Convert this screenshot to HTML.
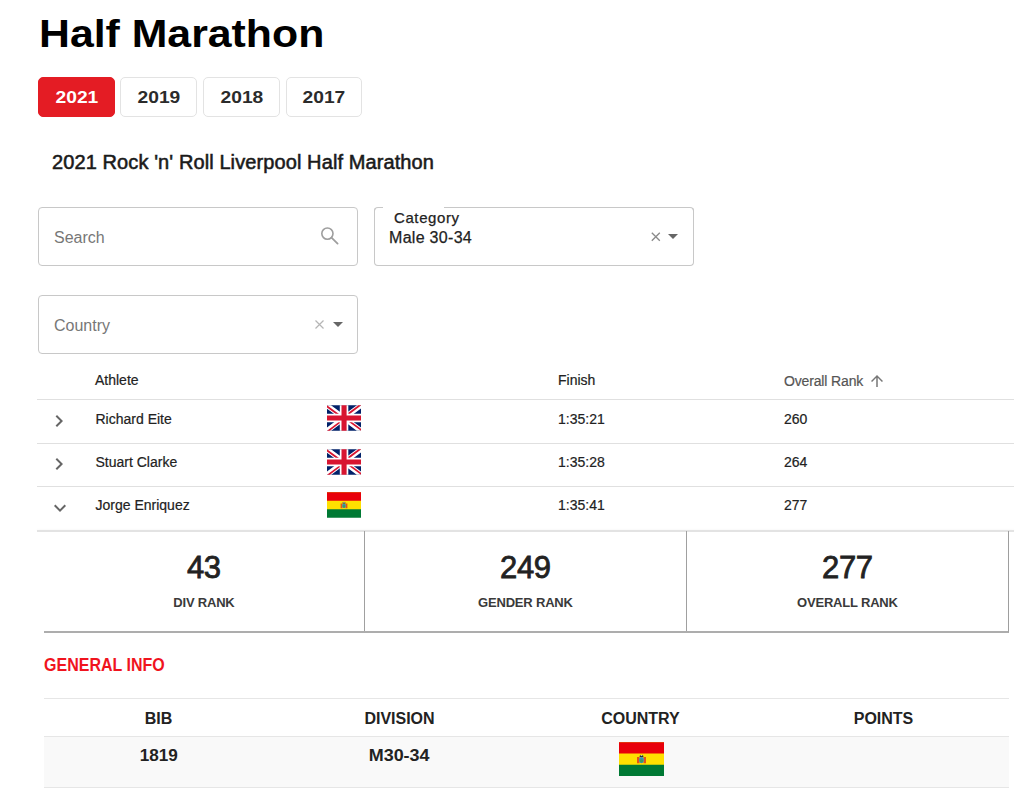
<!DOCTYPE html>
<html lang="en">
<head>
<meta charset="utf-8">
<title>Half Marathon</title>
<style>
*{box-sizing:border-box;margin:0;padding:0}
html,body{width:1030px;height:799px;overflow:hidden;background:#fff}
body{font-family:"Liberation Sans",Arial,sans-serif;color:#222;position:relative}
.abs{position:absolute;white-space:nowrap}
h1{position:absolute;left:39px;top:12px;font-size:38px;line-height:44px;font-weight:bold;color:#000;transform:scaleX(1.126);transform-origin:0 0}
.tabs{position:absolute;left:38px;top:77px;height:40px}
.tab{position:absolute;top:0;width:77px;height:40px;border:1px solid #e3e3e3;border-radius:5px;font-weight:bold;font-size:17px;line-height:38px;text-align:center;color:#2b2b2b;padding-top:1px}
.tab span{display:inline-block;transform:scaleX(1.13)}
.tab.on{background:#e41c24;border-color:#e41c24;color:#fff}
.sub{left:52px;top:150px;font-size:20px;letter-spacing:0.1px;line-height:24px;font-weight:normal;color:#1a1a1a;-webkit-text-stroke:0.55px #1a1a1a}
.field{position:absolute;width:320px;height:59px;border:1px solid #c8c8c8;border-radius:4px;background:#fff}
.ph{position:absolute;left:15px;top:21px;font-size:16px;line-height:18px;color:#777}
.rows{position:absolute;left:37px;top:365px;width:977px}
.hline{position:absolute;left:37px;width:977px;height:1px;background:#e0e0e0}
.th{font-size:14px;line-height:16px;-webkit-text-stroke:0.2px currentColor}
.td{font-size:14px;line-height:16px;color:#222;-webkit-text-stroke:0.2px currentColor}
.flag{position:absolute;width:34px;height:26px}
.panel{position:absolute;left:44px;top:531px;width:965px;height:102px;border-right:1px solid #9e9e9e;border-bottom:2px solid #adadad}
.cell{position:absolute;top:0;height:100px;text-align:center}
.num{position:absolute;left:0;right:0;top:18.5px;font-size:31px;line-height:36px;font-weight:normal;color:#222;letter-spacing:-0.3px;text-indent:-0.3px;-webkit-text-stroke:0.8px #222}
.lab{position:absolute;left:0;right:0;top:64px;font-size:13px;line-height:16px;font-weight:bold;color:#3a3a3a;letter-spacing:-0.2px;text-indent:-0.2px}
.gi{left:44px;top:654px;font-size:18px;line-height:22px;font-weight:bold;color:#f0141e;transform:scaleX(0.89);transform-origin:0 0}
.it{position:absolute;left:44px;width:965px}
.ic{position:absolute;width:229px;text-align:center;font-size:16px;line-height:18px;font-weight:bold;color:#222}
</style>
</head>
<body>
<h1>Half Marathon</h1>
<div class="tabs">
  <div class="tab on" style="left:0"><span>2021</span></div>
  <div class="tab" style="left:82px"><span>2019</span></div>
  <div class="tab" style="left:165px"><span>2018</span></div>
  <div class="tab" style="left:248px;width:76px"><span>2017</span></div>
</div>
<div class="abs sub">2021 Rock 'n' Roll Liverpool Half Marathon</div>

<!-- Search -->
<div class="field" style="left:38px;top:207px">
  <div class="ph">Search</div>
  <svg class="abs" style="left:279px;top:16px" width="22" height="22" viewBox="0 0 22 22"><circle cx="9.4" cy="9.6" r="5.6" fill="none" stroke="#9e9e9e" stroke-width="1.6"/><path d="M13.5 13.7L19.6 19.6" stroke="#9e9e9e" stroke-width="1.8" stroke-linecap="round"/></svg>
</div>

<!-- Category -->
<div class="field" style="left:374px;top:207px;border-top-color:transparent">
  <div style="position:absolute;left:-1px;top:-1px;width:9px;height:5px;border-top:1px solid #c8c8c8;border-left:1px solid #c8c8c8;border-top-left-radius:4px"></div>
  <div style="position:absolute;left:69px;top:-1px;right:-1px;height:5px;border-top:1px solid #c8c8c8;border-right:1px solid #c8c8c8;border-top-right-radius:4px"></div>
  <div class="abs" style="left:19px;top:0.5px;font-size:15px;line-height:18px;color:#222;letter-spacing:0.6px;-webkit-text-stroke:0.25px #222">Category</div>
  <div class="abs" style="left:14px;top:21px;font-size:16px;line-height:18px;color:#222;letter-spacing:0.3px;-webkit-text-stroke:0.25px #222">Male 30-34</div>
  <svg class="abs" style="left:276px;top:24px" width="10" height="10" viewBox="0 0 10 10"><path d="M0.8 0.8L8.8 8.8M8.8 0.8L0.8 8.8" stroke="#8a8a8a" stroke-width="1.3"/></svg>
  <svg class="abs" style="left:293px;top:26px" width="10" height="6" viewBox="0 0 10 6"><path d="M0 0H10L5 5Z" fill="#666"/></svg>
</div>

<!-- Country -->
<div class="field" style="left:38px;top:295px">
  <div class="ph">Country</div>
  <svg class="abs" style="left:276px;top:24px" width="10" height="10" viewBox="0 0 10 10"><path d="M0.5 0.5L8.5 8.5M8.5 0.5L0.5 8.5" stroke="#b5b5b5" stroke-width="1.2"/></svg>
  <svg class="abs" style="left:294px;top:26px" width="10" height="6" viewBox="0 0 10 6"><path d="M0 0H10L5 5Z" fill="#666"/></svg>
</div>


<svg width="0" height="0" style="position:absolute">
  <defs>
  <symbol id="gb" viewBox="0 0 640 480">
    <path fill="#012169" d="M0 0h640v480H0z"/>
    <path fill="#FFF" d="m75 0 244 181L562 0h78v62L400 241l240 178v61h-80L320 301 81 480H0v-60l239-178L0 64V0z"/>
    <path fill="#d81530" d="m424 281 216 159v40L369 281zm-184 20 6 35L54 480H0zM640 0v3L391 191l2-44L590 0zM0 0l239 176h-60L0 42z"/>
    <path fill="#FFF" d="M241 0v480h160V0zM0 160v160h640V160z"/>
    <path fill="#d81530" d="M0 193v96h640v-96zM273 0v480h96V0z"/>
  </symbol>
  <symbol id="bo" viewBox="0 0 640 480">
    <path fill="#007934" d="M0 0h640v480H0z"/>
    <path fill="#ffe000" d="M0 0h640v320H0z"/>
    <path fill="#e8000b" d="M0 0h640v160H0z"/>
    <path fill="#e2541c" d="M256 212h36v88h-36zM348 212h36v88h-36z"/>
    <ellipse cx="320" cy="255" rx="34" ry="44" fill="#2f93c4"/>
    <ellipse cx="320" cy="266" rx="22" ry="24" fill="#3f9e58"/>
    <path fill="#2b2b2b" d="M292 210l8-30 20 12 20-12 8 30z"/>
    <path fill="#fff" d="M306 190h28v8h-28z"/>
  </symbol>
  </defs>
</svg>
<!-- results table -->
<div class="abs th" style="left:95px;top:372px;color:#222">Athlete</div>
<div class="abs th" style="left:558px;top:372px;color:#222">Finish</div>
<div class="abs th" style="left:784px;top:373px;color:#555;letter-spacing:-0.15px">Overall Rank</div>
<svg class="abs" width="18" height="18" viewBox="0 0 24 24" style="left:868px;top:372px"><path d="M4 12l1.41 1.41L11 7.83V20h2V7.83l5.58 5.59L20 12l-8-8-8 8z" fill="#777"/></svg>
<div class="hline" style="top:399px"></div>
<div class="hline" style="top:443px"></div>
<div class="hline" style="top:486px"></div>
<div class="hline" style="top:530px;height:2px;background:#e3e3e3;box-shadow:0 -1px 2px rgba(0,0,0,0.025)"></div>
<svg class="abs" width="24" height="24" viewBox="0 0 24 24" style="left:47px;top:409px"><path d="M8.59 16.59L13.17 12 8.59 7.41 10 6l6 6-6 6-1.41-1.41z" fill="#666"/></svg>
<div class="abs td" style="left:95.5px;top:410.5px">Richard Eite</div>
<svg class="flag" style="left:327px;top:405px"><use href="#gb"/></svg>
<div class="abs td" style="left:558px;top:410.5px">1:35:21</div>
<div class="abs td" style="left:784px;top:410.5px">260</div>
<svg class="abs" width="24" height="24" viewBox="0 0 24 24" style="left:47px;top:452px"><path d="M8.59 16.59L13.17 12 8.59 7.41 10 6l6 6-6 6-1.41-1.41z" fill="#666"/></svg>
<div class="abs td" style="left:95.5px;top:454px">Stuart Clarke</div>
<svg class="flag" style="left:327px;top:449px"><use href="#gb"/></svg>
<div class="abs td" style="left:558px;top:454px">1:35:28</div>
<div class="abs td" style="left:784px;top:454px">264</div>
<svg class="abs" width="24" height="24" viewBox="0 0 24 24" style="left:47.5px;top:496px"><path d="M7.41 8.59L12 13.17l4.59-4.58L18 10l-6 6-6-6 1.41-1.41z" fill="#666"/></svg>
<div class="abs td" style="left:95.5px;top:497px">Jorge Enriquez</div>
<svg class="flag" style="left:327px;top:492px"><use href="#bo"/></svg>
<div class="abs td" style="left:558px;top:497px">1:35:41</div>
<div class="abs td" style="left:784px;top:497px">277</div>

<!-- rank panel -->
<div class="panel">
  <div class="cell" style="left:0;width:321px;border-right:1px solid #a0a0a0"><div class="num">43</div><div class="lab">DIV RANK</div></div>
  <div class="cell" style="left:321px;width:322px;border-right:1px solid #a0a0a0"><div class="num">249</div><div class="lab">GENDER RANK</div></div>
  <div class="cell" style="left:643px;width:321px"><div class="num">277</div><div class="lab">OVERALL RANK</div></div>
</div>

<div class="abs gi">GENERAL INFO</div>
<div class="it" style="top:698px;height:1px;background:#e6e6e6"></div>
<div class="it" style="top:736px;height:1px;background:#e6e6e6"></div>
<div class="it" style="top:737px;height:50px;background:#f9f9f9"></div>
<div class="it" style="top:787px;height:1px;background:#e6e6e6"></div>
<div class="ic" style="left:44px;top:710px">BIB</div>
<div class="ic" style="left:285px;top:710px">DIVISION</div>
<div class="ic" style="left:526px;top:710px">COUNTRY</div>
<div class="ic" style="left:769px;top:710px">POINTS</div>
<div class="ic" style="left:44px;top:747px"><span style="display:inline-block;transform:scaleX(1.07)">1819</span></div>
<div class="ic" style="left:285px;top:747px"><span style="display:inline-block;transform:scaleX(1.12)">M30-34</span></div>
<svg class="abs" style="left:619px;top:742px" width="45" height="34"><use href="#bo"/></svg>
</body>
</html>
